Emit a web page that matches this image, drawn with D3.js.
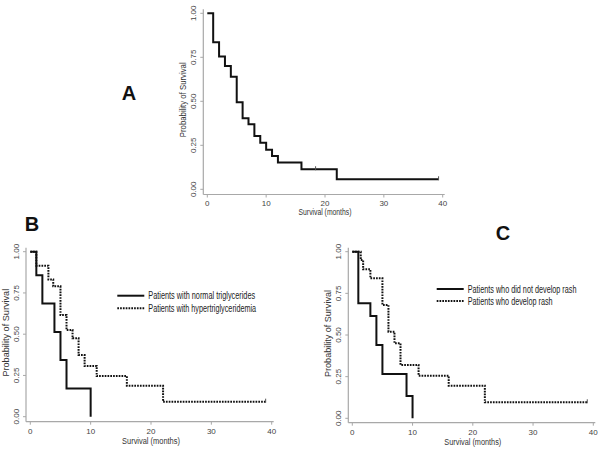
<!DOCTYPE html>
<html><head><meta charset="utf-8">
<script src="https://d3js.org/d3.v7.min.js"></script>
<style>
body{margin:0;background:#fff;}
svg{display:block;}
.tk{font-family:"Liberation Sans",Arial,sans-serif;font-size:8px;fill:#444;}
.tt{font-family:"Liberation Sans",Arial,sans-serif;font-size:9px;fill:#333;}
.lg{font-family:"Liberation Sans",Arial,sans-serif;font-size:10px;fill:#222;}
.pl{font-family:"Liberation Sans",Arial,sans-serif;font-size:20px;font-weight:bold;fill:#111;}
</style></head><body>
<svg id="c" width="602" height="452"></svg>
<script>
// ---- data ----
const monthTicks = [0, 10, 20, 30, 40];
const probTicks = [0, 0.25, 0.5, 0.75, 1];
const probTickLabels = ["0.00", "0.25", "0.50", "0.75", "1.00"];
const xTitle = "Survival (months)";
const yTitle = "Probability of Survival";

// Panel A: all patients
const aTimes = [0, 1, 2, 3, 4, 5, 6, 7, 8, 9, 10, 11, 12, 16, 22, 39.3];
const aSurv  = [1, 0.835, 0.754, 0.70, 0.64, 0.494, 0.403, 0.369, 0.303, 0.265, 0.225, 0.189, 0.152, 0.114, 0.057, 0.057];
const aCensorTimes = [18.4, 39.3];
const aCensorSurv  = [0.114, 0.057];

// Panel B: triglycerides
const bNormalTimes = [0, 1, 2, 4, 5, 6, 10];
const bNormalSurv  = [1, 0.857, 0.686, 0.514, 0.343, 0.171, 0];
const bHyperTimes  = [0, 1, 3, 3.8, 5, 6, 7, 8, 9, 11, 16, 22, 39];
const bHyperSurv   = [1, 0.915, 0.832, 0.79, 0.616, 0.525, 0.475, 0.374, 0.307, 0.246, 0.188, 0.091, 0.091];
const bCensorTimes = [39];
const bCensorSurv  = [0.091];
const bLegend = ["Patients with normal triglycerides", "Patients with hypertriglyceridemia"];

// Panel C: rash
const cNoRashTimes = [0, 1, 3, 4, 5, 9, 10];
const cNoRashSurv  = [1, 0.69, 0.614, 0.44, 0.266, 0.134, 0];
const cRashTimes   = [0, 1.4, 1.8, 3, 5, 6, 7, 8, 11, 16, 22, 39];
const cRashSurv    = [1, 0.95, 0.894, 0.84, 0.68, 0.52, 0.45, 0.32, 0.256, 0.196, 0.096, 0.096];
const cCensorTimes = [39];
const cCensorSurv  = [0.096];
const cLegend = ["Patients who did not develop rash", "Patients who develop rash"];

const svg = d3.select("#c");

// place a text at (x,y) with rotation, squeezing it horizontally to a target width
function fitText(g, cls, str, x, y, rot, width, anchor) {
  const outer = g.append("g").attr("transform", `translate(${x},${y}) rotate(${rot})`);
  const t = outer.append("text").attr("class", cls).attr("text-anchor", anchor).text(str);
  const w = t.node().getComputedTextLength();
  t.attr("transform", `scale(${width / w},1)`);
  return t;
}

function panel(cfg) {
  const g = svg.append("g");
  const x = d3.scaleLinear().domain([0, 40]).range([cfg.x0, cfg.x1]);
  const y = d3.scaleLinear().domain([0, 1]).range([cfg.y0, cfg.y1]);
  const axisColor = "#a8a8a8";
  g.append("line").attr("x1", cfg.ax).attr("x2", cfg.ax).attr("y1", cfg.y1 - 4).attr("y2", cfg.ay)
    .attr("stroke", axisColor).attr("stroke-width", 1.2);
  g.append("line").attr("x1", cfg.ax).attr("x2", cfg.x1 + 2).attr("y1", cfg.ay).attr("y2", cfg.ay)
    .attr("stroke", axisColor).attr("stroke-width", 1.2);
  monthTicks.forEach(t => {
    g.append("line").attr("x1", x(t)).attr("x2", x(t)).attr("y1", cfg.ay).attr("y2", cfg.ay + 3)
      .attr("stroke", axisColor).attr("stroke-width", 1);
    g.append("text").attr("class", "tk").attr("x", x(t)).attr("y", cfg.ay + cfg.tkOff)
      .attr("text-anchor", "middle").text(t);
  });
  probTicks.forEach((p, i) => {
    g.append("line").attr("x1", cfg.ax - 3).attr("x2", cfg.ax).attr("y1", y(p)).attr("y2", y(p))
      .attr("stroke", axisColor).attr("stroke-width", 1);
    g.append("text").attr("class", "tk")
      .attr("transform", `translate(${cfg.ax - 7},${y(p)}) rotate(-90)`)
      .attr("text-anchor", "middle").text(probTickLabels[i]);
  });
  fitText(g, "tt", xTitle, (x(0) + x(40)) / 2, cfg.ay + cfg.ttOff, 0, cfg.xtLen, "middle");
  fitText(g, "tt", yTitle, cfg.ax - 17, (cfg.y0 + cfg.y1) / 2 - 1.5, -90, cfg.ytLen, "middle");

  const line = d3.line().x(d => x(d[0])).y(d => y(d[1])).curve(d3.curveStepAfter);
  cfg.series.forEach(s => {
    g.append("path").datum(d3.zip(s.times, s.surv)).attr("d", line)
      .attr("fill", "none").attr("stroke", "#111").attr("stroke-width", 2)
      .attr("stroke-dasharray", s.dash ? "1.7,1.1" : null);
  });
  (cfg.censor || []).forEach(c => {
    d3.zip(c.times, c.surv).forEach(d => {
      g.append("line").attr("x1", x(d[0])).attr("x2", x(d[0]))
        .attr("y1", y(d[1]) - 3).attr("y2", y(d[1]) + 1)
        .attr("stroke", "#555").attr("stroke-width", 1);
    });
  });
  if (cfg.legend) {
    cfg.legend.labels.forEach((lab, i) => {
      const ly = cfg.legend.y + i * cfg.legend.dy;
      g.append("line").attr("x1", cfg.legend.x).attr("x2", cfg.legend.x + 27)
        .attr("y1", ly).attr("y2", ly).attr("stroke", "#111").attr("stroke-width", 2)
        .attr("stroke-dasharray", i === 1 ? "1.7,1.1" : null);
      fitText(g, "lg", lab, cfg.legend.x + 31, ly + 3.6, 0, cfg.legend.lens[i], "start");
    });
  }
  g.append("text").attr("class", "pl").attr("x", cfg.lx).attr("y", cfg.ly)
    .attr("text-anchor", "middle").text(cfg.label);
}

panel({x0: 207.3, x1: 442.7, y0: 189.3, y1: 13.3, ax: 203.3, ay: 194.5, xtLen: 53, ytLen: 75,
  tkOff: 11, ttOff: 20,
  series: [{times: aTimes, surv: aSurv}],
  censor: [{times: aCensorTimes, surv: aCensorSurv}],
  label: "A", lx: 129, ly: 100});

panel({x0: 30.3, x1: 271.7, y0: 416.7, y1: 251.7, ax: 26, ay: 421.7, xtLen: 58, ytLen: 88,
  tkOff: 12, ttOff: 22.5,
  series: [{times: bNormalTimes, surv: bNormalSurv}, {times: bHyperTimes, surv: bHyperSurv, dash: true}],
  censor: [{times: bCensorTimes, surv: bCensorSurv}],
  legend: {labels: bLegend, x: 117.3, y: 295.7, dy: 12.6, lens: [107, 108]},
  label: "B", lx: 32, ly: 230.5});

panel({x0: 352.3, x1: 593.3, y0: 418.3, y1: 251.7, ax: 348.3, ay: 422.7, xtLen: 57, ytLen: 87,
  tkOff: 12, ttOff: 22.5,
  series: [{times: cNoRashTimes, surv: cNoRashSurv}, {times: cRashTimes, surv: cRashSurv, dash: true}],
  censor: [{times: cCensorTimes, surv: cCensorSurv}],
  legend: {labels: cLegend, x: 436.7, y: 289, dy: 12, lens: [109, 85]},
  label: "C", lx: 503, ly: 240});
</script>
</body></html>
